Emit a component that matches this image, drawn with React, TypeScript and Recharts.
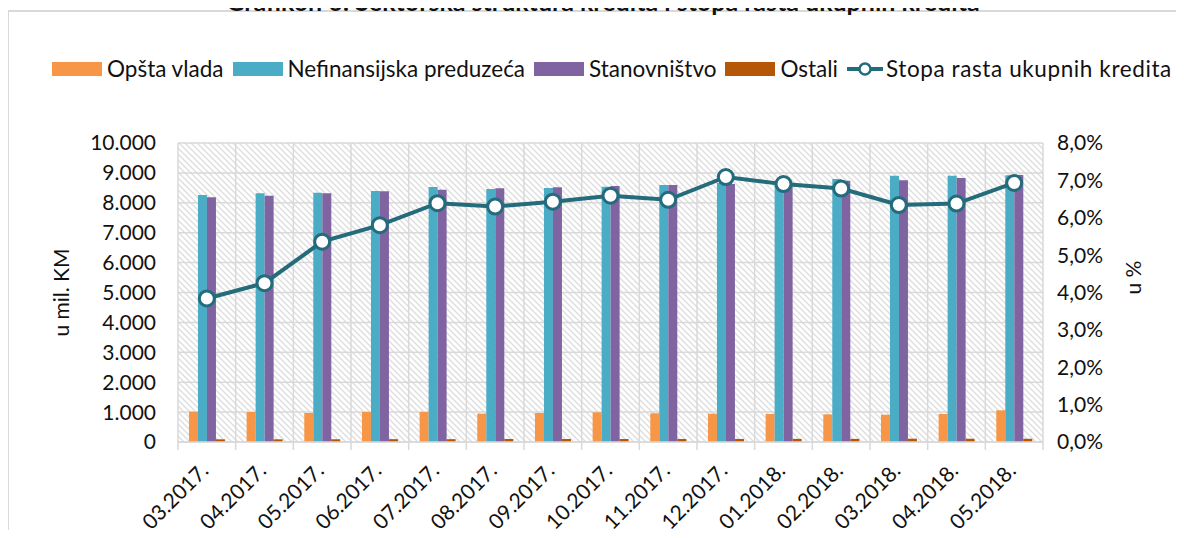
import React from "react";
import {
  ComposedChart,
  Bar,
  Line,
  XAxis,
  YAxis,
  CartesianGrid,
  Legend,
} from "recharts";

const months = [
  "03.2017.", "04.2017.", "05.2017.", "06.2017.", "07.2017.",
  "08.2017.", "09.2017.", "10.2017.", "11.2017.", "12.2017.",
  "01.2018.", "02.2018.", "03.2018.", "04.2018.", "05.2018.",
];

const opstaVlada = [1013, 1003, 970, 1003, 1003, 947, 970, 993, 960, 947, 936, 926, 913, 936, 1060];
const nefinansijska = [8261, 8318, 8338, 8395, 8528, 8462, 8495, 8540, 8595, 8660, 8720, 8796, 8906, 8906, 8925];
const stanovnistvo = [8184, 8238, 8318, 8385, 8438, 8485, 8518, 8562, 8595, 8629, 8670, 8740, 8752, 8829, 8930];
const ostali = [90, 90, 92, 95, 95, 98, 100, 100, 100, 102, 105, 105, 110, 108, 112];
const stopaRasta = [3.84, 4.25, 5.36, 5.8, 6.39, 6.3, 6.43, 6.59, 6.48, 7.09, 6.9, 6.78, 6.34, 6.38, 6.93];

const leftTicks = [0, 1000, 2000, 3000, 4000, 5000, 6000, 7000, 8000, 9000, 10000];
const rightTicks = [0, 1, 2, 3, 4, 5, 6, 7, 8];

const FONT = "Lato, 'Open Sans', sans-serif";
const GRID = "#d9d9d9";
const LINE = "#246b7b";

const series = [
  { key: "opsta", name: "Opšta vlada", color: "#f79646" },
  { key: "nefin", name: "Nefinansijska preduzeća", color: "#4bacc6" },
  { key: "stan", name: "Stanovništvo", color: "#8064a2" },
  { key: "ostali", name: "Ostali", color: "#b65708" },
];

const data = months.map((m, i) => ({
  month: m,
  opsta: opstaVlada[i],
  nefin: nefinansijska[i],
  stan: stanovnistvo[i],
  ostali: ostali[i],
  stopa: stopaRasta[i],
}));

const fmtThousands = (v: number) =>
  String(v).replace(/\B(?=(\d{3})+(?!\d))/g, ".");
const fmtPct = (v: number) => `${v.toFixed(1).replace(".", ",")}%`;

function MonthTick(props: any) {
  const { x, y, payload, index } = props;
  const half = payload.offset || 0;
  const tx = x + 3;
  const ty = y + 30;
  return (
    <g>
      <line x1={x - half} y1={y} x2={x - half} y2={y + 8} stroke={GRID} strokeWidth={1.5} />
      {index === months.length - 1 && (
        <line x1={x + half} y1={y} x2={x + half} y2={y + 8} stroke={GRID} strokeWidth={1.5} />
      )}
      <text
        x={tx}
        y={ty}
        textAnchor="end"
        transform={`rotate(-45 ${tx} ${ty})`}
        fontSize={21}
        fontFamily={FONT}
        fill="#111"
      >
        {payload.value}
      </text>
    </g>
  );
}

function LegendBox() {
  return (
    <div
      style={{
        display: "flex",
        alignItems: "center",
        paddingLeft: 52,
        fontFamily: FONT,
        fontSize: 22.5,
        color: "#111",
        whiteSpace: "nowrap",
      }}
    >
      {series.map((s) => (
        <div key={s.key} style={{ display: "flex", alignItems: "center", marginRight: 9 }}>
          <span style={{ width: 50, height: 14, background: s.color, marginRight: 5 }} />
          <span>{s.name}</span>
        </div>
      ))}
      <div style={{ display: "flex", alignItems: "center" }}>
        <svg width={36} height={16} style={{ marginRight: 3 }}>
          <line x1={0} y1={8} x2={36} y2={8} stroke={LINE} strokeWidth={4} />
          <circle cx={18} cy={8} r={5.5} fill="#fff" stroke={LINE} strokeWidth={2.5} />
        </svg>
        <span style={{ letterSpacing: 0.6 }}>Stopa rasta ukupnih kredita</span>
      </div>
    </div>
  );
}

export default function App() {
  return (
    <div style={{ position: "relative", width: 1184, height: 538, margin: -8, overflow: "hidden", background: "#fff" }}>
      <div
        style={{
          position: "absolute",
          left: 7,
          top: 10,
          width: 1200,
          height: 600,
          border: `2px solid ${GRID}`,
        }}
      />
      <div
        style={{
          position: "absolute",
          top: -11,
          left: 0,
          width: 1206,
          textAlign: "center",
          fontFamily: FONT,
          fontWeight: 700,
          fontSize: 25,
          lineHeight: "25px",
          color: "#111",
        }}
      >
        Grafikon 6: Sektorska struktura kredita i stopa rasta ukupnih kredita
      </div>
      <div style={{ position: "absolute", left: 0, top: 0 }}>
        <ComposedChart
          width={1184}
          height={538}
          data={data}
          margin={{ top: 143, right: 0, bottom: 0, left: 0 }}
          barGap={0}
          barCategoryGap="19%"
        >
          <defs>
            <pattern id="hatch" width={6} height={6} patternUnits="userSpaceOnUse">
              <rect width={6} height={6} fill="#fff" />
              <path d="M0,0 L6,6 M-1,5 L1,7 M5,-1 L7,1" stroke="#dedede" strokeWidth={1.4} />
            </pattern>
          </defs>
          <CartesianGrid
            yAxisId="left"
            stroke={GRID}
            strokeWidth={1.5}
            fill="url(#hatch)"
            fillOpacity={1}
            verticalCoordinatesGenerator={({ offset }: any) =>
              months.map((_, i) => offset.left + (offset.width * i) / months.length).concat(offset.left + offset.width)
            }
          />
          <XAxis
            dataKey="month"
            height={96}
            interval={0}
            axisLine={{ stroke: GRID, strokeWidth: 1.5 }}
            tickLine={false}
            tickSize={0}
            tickMargin={0}
            tick={<MonthTick />}
          />
          <YAxis
            yAxisId="left"
            orientation="left"
            width={178}
            domain={[0, 10000]}
            ticks={leftTicks}
            interval={0}
            tickFormatter={fmtThousands}
            axisLine={false}
            tickLine={false}
            tickSize={0}
            tickMargin={22}
            tick={{ fontSize: 21, fontFamily: FONT, fill: "#111" }}
            label={{ value: "u mil. KM", angle: -90, position: "center", dx: -27, fontSize: 21, fontFamily: FONT, fill: "#111" }}
          />
          <YAxis
            yAxisId="right"
            orientation="right"
            width={141}
            domain={[0, 8]}
            ticks={rightTicks}
            interval={0}
            tickFormatter={fmtPct}
            axisLine={false}
            tickLine={false}
            tickSize={0}
            tickMargin={14}
            tick={{ fontSize: 21, fontFamily: FONT, fill: "#111", textAnchor: "start" }}
            label={{ value: "u %", angle: -90, position: "center", dx: 20, dy: -15, fontSize: 21, fontFamily: FONT, fill: "#111" }}
          />
          <Legend
            layout="horizontal"
            verticalAlign="middle"
            align="center"
            wrapperStyle={{ top: 55, left: 0, width: 1184 }}
            content={() => <LegendBox />}
          />
          {series.map((s) => (
            <Bar
              key={s.key}
              yAxisId="left"
              dataKey={s.key}
              name={s.name}
              fill={s.color}
              isAnimationActive={false}
            />
          ))}
          <Line
            yAxisId="right"
            dataKey="stopa"
            name="Stopa rasta ukupnih kredita"
            stroke={LINE}
            strokeWidth={4}
            dot={{ r: 7.5, fill: "#fff", stroke: LINE, strokeWidth: 3 }}
            isAnimationActive={false}
          />
        </ComposedChart>
      </div>
    </div>
  );
}
